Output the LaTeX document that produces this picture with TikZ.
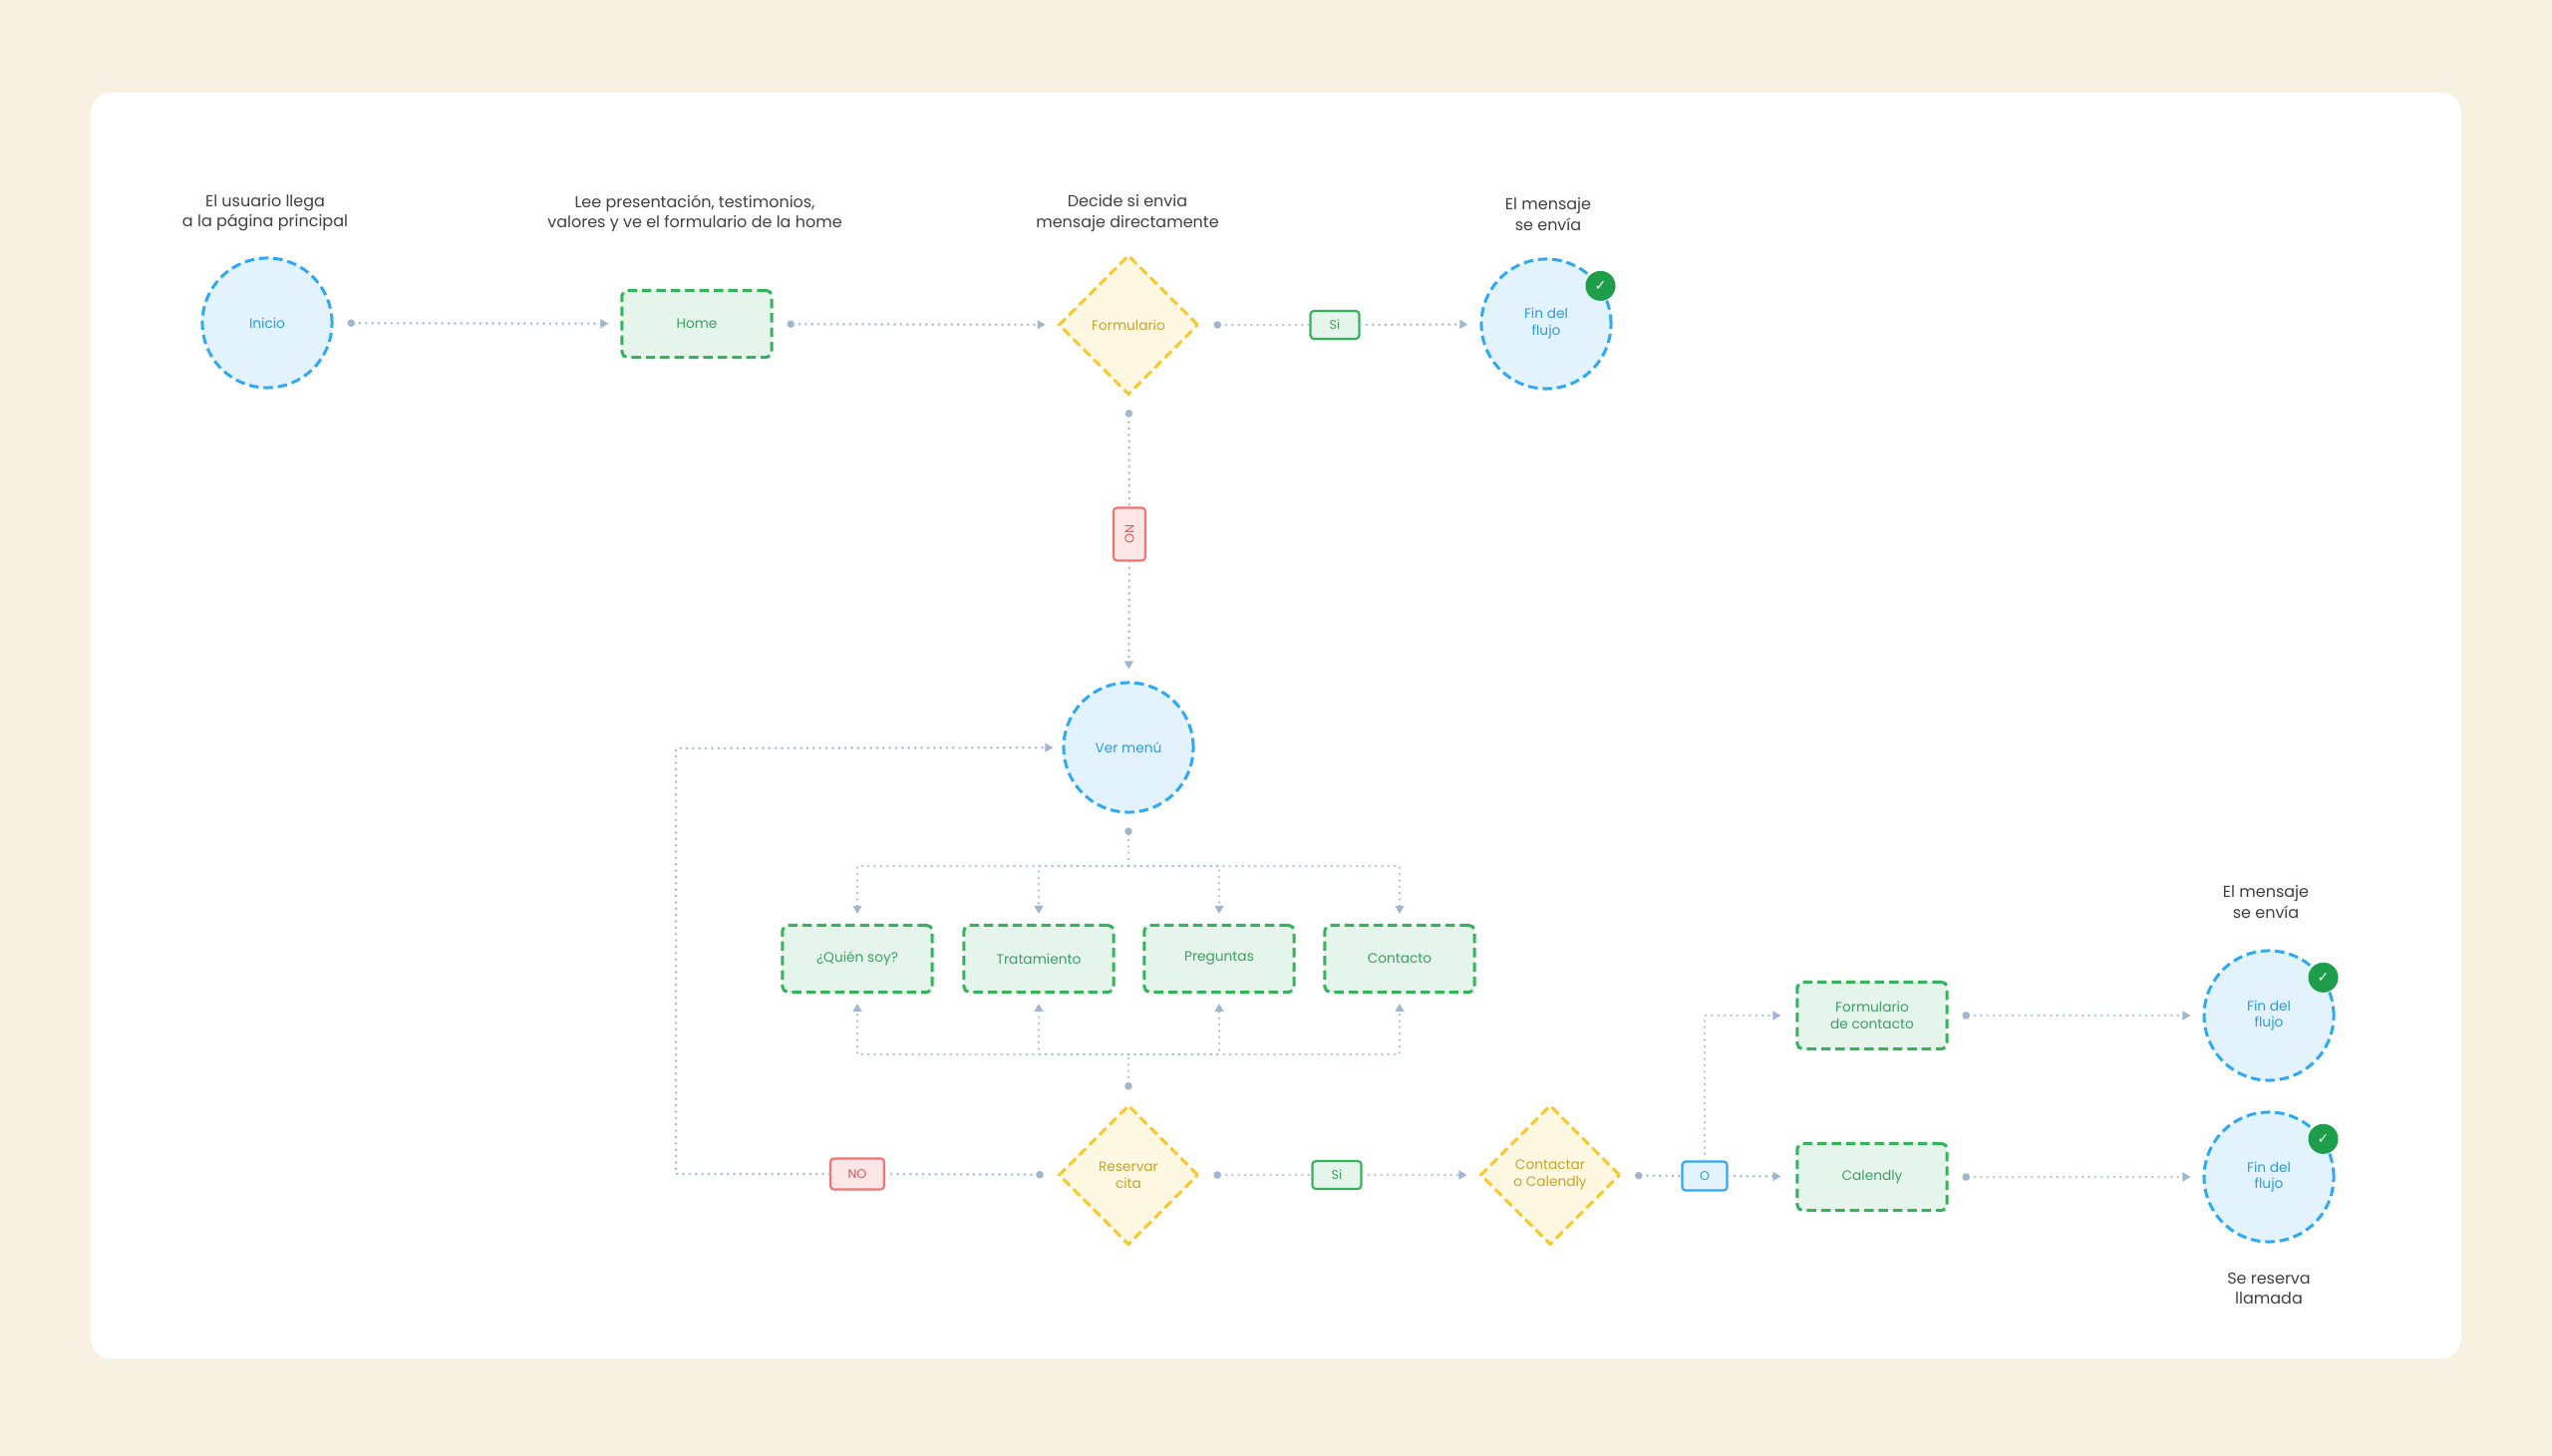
\documentclass[tikz,border=0pt]{standalone}
\usepackage{fontspec}
\setmainfont{Poppins}
\newfontfamily\simbolos{DejaVu Sans}
\usetikzlibrary{shapes.geometric,arrows.meta,positioning}

\definecolor{fondo}{HTML}{F7F1E1}
\definecolor{gris}{HTML}{404040}
\definecolor{linea}{HTML}{A3B6D0}
\definecolor{azul}{HTML}{2DA9F5}
\definecolor{azulclaro}{HTML}{E2F3FD}
\definecolor{azultexto}{HTML}{2F9BDF}
\definecolor{verde}{HTML}{34B35A}
\definecolor{verdeclaro}{HTML}{E5F5EC}
\definecolor{verdetexto}{HTML}{3E9E64}
\definecolor{verdeok}{HTML}{1E9E4A}
\definecolor{amarillo}{HTML}{FBC82B}
\definecolor{amarilloclaro}{HTML}{FEF8E3}
\definecolor{amarillotexto}{HTML}{C8A22A}
\definecolor{rojo}{HTML}{EF7474}
\definecolor{rojoclaro}{HTML}{FDE6E6}
\definecolor{rojotexto}{HTML}{E25555}

\begin{document}
\begin{tikzpicture}[x=0.01cm,y=-0.01cm,
  every node/.style={align=center,font=\fontsize{3.9pt}{4.8pt}\selectfont},
  borde/.style={line width=0.85pt,dash pattern=on 2.7pt off 1.4pt},
  circulo/.style={circle,borde,draw=azul,fill=azulclaro,text=azultexto,minimum size=1.3cm,inner sep=0pt},
  caja/.style={rectangle,borde,rounded corners=1.5pt,draw=verde,fill=verdeclaro,text=verdetexto,minimum width=1.5cm,minimum height=0.67cm},
  decision/.style={diamond,aspect=1,borde,draw=amarillo,fill=amarilloclaro,text=amarillotexto,minimum size=1.4cm,inner sep=0pt},
  etiqueta/.style={rectangle,rounded corners=1pt,line width=0.6pt,inner sep=0pt,font=\fontsize{3.6pt}{4pt}\selectfont},
  si/.style={etiqueta,draw=verde,fill=verdeclaro,text=verdetexto,minimum width=0.49cm,minimum height=0.28cm},
  no/.style={etiqueta,draw=rojo,fill=rojoclaro,text=rojotexto,minimum width=0.54cm,minimum height=0.31cm},
  uno/.style={etiqueta,draw=azul,fill=azulclaro,text=azultexto,minimum width=0.45cm,minimum height=0.29cm},
  nota/.style={text=gris,font=\fontsize{4.55pt}{5.7pt}\selectfont},
  ok/.style={circle,fill=verdeok,text=white,minimum size=0.3cm,inner sep=0pt,font=\simbolos\fontsize{4pt}{4pt}\selectfont},
  tramo/.style={draw=linea,line width=0.75pt,dash pattern=on 0.01pt off 1.8pt,line cap=round},
  desde/.style={tramo,{Circle[length=2.1pt]}-,shorten <=0.14cm},
  hacia/.style={tramo,-{Triangle[length=2.3pt,width=2.5pt]},shorten >=0.12cm},
  desdehacia/.style={tramo,{Circle[length=2.1pt]}-{Triangle[length=2.3pt,width=2.5pt]},shorten <=0.14cm,shorten >=0.12cm}]
  % Fondo
  \fill[fondo] (0,0) rectangle (2560,1461);
  \fill[white,rounded corners=0.2cm] (91,93) rectangle (2469,1363);
  % Nodos fila superior
  \node[circulo] (inicio) at (268,324) {Inicio};
  \node[caja] (home) at (699,325) {Home};
  \node[decision] (formulario) at (1132,326) {Formulario};
  \node[si] (si1) at (1339,326) {Si};
  \node[circulo] (fin1) at (1551,325) {Fin del\\flujo};
  \node[ok] (ok1) at (fin1.35) {✓};
  \node[no,rotate=-90,minimum width=0.53cm,minimum height=0.32cm] (no1) at (1133,536) {NO};
  % Notas
  \node[nota] (nota1) at (266,214) {El usuario llega\\a la página principal};
  \node[nota] (nota2) at (697,214) {Lee presentación, testimonios,\\valores y ve el formulario de la home};
  \node[nota] (nota3) at (1131,214) {Decide si envia\\mensaje directamente};
  \node[nota] (nota4) at (1553,215) {El mensaje\\se envía};
  \node[nota] (nota5) at (2273,905) {El mensaje\\se envía};
  \node[nota] (nota6) at (2276,1293) {Se reserva\\llamada};
  % Nodos menu
  \node[circulo] (menu) at (1132,750) {Ver menú};
  \node[caja] (quien) at (860,962) {¿Quién soy?};
  \node[caja] (tratamiento) at (1042,962) {Tratamiento};
  \node[caja] (preguntas) at (1223,962) {Preguntas};
  \node[caja] (contacto) at (1404,962) {Contacto};
  \coordinate (bifurca) at (1132,869);
  \coordinate (junta) at (1132,1058);
  \coordinate (vuelta) at (678,751);
  % Nodos fila inferior
  \node[decision] (reservar) at (1132,1179) {Reservar\\cita};
  \node[no] (no2) at (860,1178) {NO};
  \node[si] (si2) at (1341,1179) {Si};
  \node[decision] (contactar) at (1555,1179) {Contactar\\o Calendly};
  \node[uno] (o) at (1710,1180) {O};
  \node[caja] (formcont) at (1878,1019) {Formulario\\de contacto};
  \node[caja] (calendly) at (1878,1181) {Calendly};
  \node[circulo] (fin2) at (2276,1019) {Fin del\\flujo};
  \node[ok] (ok2) at (fin2.35) {✓};
  \node[circulo] (fin3) at (2276,1181) {Fin del\\flujo};
  \node[ok] (ok3) at (fin3.35) {✓};
  % Conectores
  \draw[desdehacia] (inicio) -- (home);
  \draw[desdehacia] (home) -- (formulario);
  \draw[desde] (formulario) -- (si1);
  \draw[hacia] (si1) -- (fin1);
  \draw[desde] (formulario) -- (no1);
  \draw[hacia] (no1) -- (menu);
  \draw[desde] (menu) -- (bifurca);
  \foreach \n in {quien,tratamiento,preguntas,contacto}
    \draw[hacia,shorten >=0.1cm] (bifurca) -| (\n);
  \draw[desde] (reservar) -- (junta);
  \foreach \n in {quien,tratamiento,preguntas,contacto}
    \draw[hacia,shorten >=0.1cm] (junta) -| (\n);
  \draw[desde] (reservar) -- (no2);
  \draw[hacia,shorten >=0.09cm] (no2) -| (vuelta) -- (menu);
  \draw[desde] (reservar) -- (si2);
  \draw[hacia] (si2) -- (contactar);
  \draw[desde] (contactar) -- (o);
  \draw[hacia,shorten >=0.15cm] (o) -- (calendly);
  \draw[hacia,shorten >=0.15cm] (o) |- (formcont);
  \draw[desdehacia] (formcont) -- (fin2);
  \draw[desdehacia] (calendly) -- (fin3);
\end{tikzpicture}
\end{document}
